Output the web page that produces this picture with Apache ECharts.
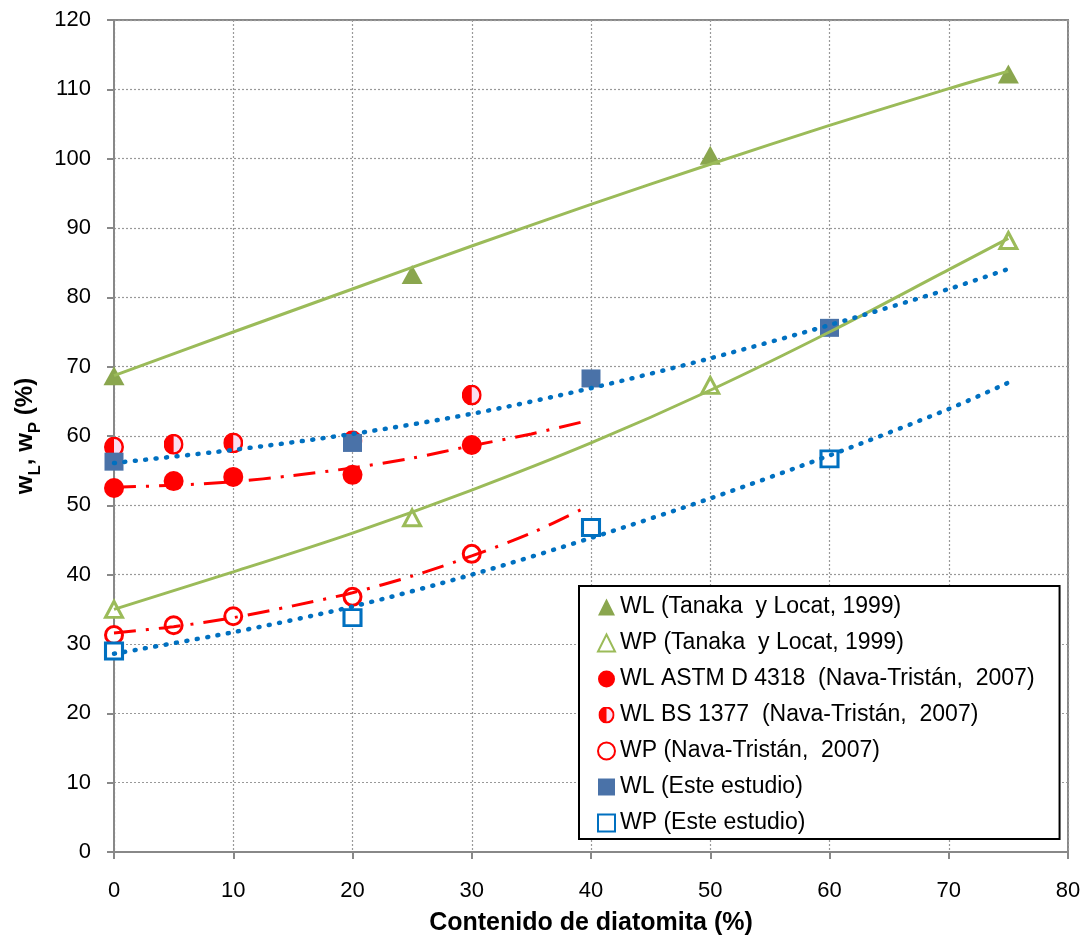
<!DOCTYPE html>
<html><head><meta charset="utf-8">
<script src="https://cdn.jsdelivr.net/npm/echarts/dist/echarts.min.js"></script>
<style>html,body{margin:0;padding:0;background:#fff}#c{width:1084px;height:949px}</style>
</head><body><div id="c"></div>
<script>
// ---- data ----
const xTicks = [0, 10, 20, 30, 40, 50, 60, 70, 80];
const yTicks = [0, 10, 20, 30, 40, 50, 60, 70, 80, 90, 100, 110, 120];

const tanakaX = [0, 25, 50, 75];
const tanakaWL = [68.7, 83.3, 100.5, 112.2];
const tanakaWP = [35.0, 48.2, 67.3, 88.2];

const navaX = [0, 5, 10, 20, 30];
const navaWL_ASTM = [52.5, 53.5, 54.1, 54.4, 58.7];
const navaWL_BS = [58.4, 58.8, 59.0, 59.3, 65.9];
const navaWP = [31.3, 32.7, 34.0, 36.8, 43.0];

const esteX = [0, 20, 40, 60];
const esteWL = [56.3, 59.0, 68.3, 75.6];
const esteWP = [29.0, 33.8, 46.8, 56.7];

// trend lines
const trendX = [0, 10, 20, 30, 40, 50, 60, 70, 75];
const trendTanakaWL = [68.7, 75.0, 81.2, 87.4, 93.4, 99.2, 104.8, 110.1, 112.6];
const trendTanakaWP = [35.0, 40.4, 46.0, 52.2, 59.0, 66.6, 75.0, 84.0, 88.5];
const trendEsteWL = [56.1, 58.0, 60.3, 63.2, 66.9, 71.2, 76.0, 81.2, 84.1];
const trendEsteWP = [28.6, 31.7, 35.4, 40.0, 45.3, 51.0, 57.2, 63.9, 67.7];
const trendNavaX = [0, 5, 10, 15, 20, 25, 30, 35, 39.2];
const trendNavaWL = [52.6, 52.9, 53.4, 54.3, 55.4, 56.8, 58.6, 60.3, 62.0];
const trendNavaWP = [31.6, 32.5, 33.8, 35.5, 37.4, 39.8, 42.7, 46.0, 49.4];

const names = [
  'WL (Tanaka  y Locat, 1999)',
  'WP (Tanaka  y Locat, 1999)',
  'WL ASTM D 4318  (Nava-Tristán,  2007)',
  'WL BS 1377  (Nava-Tristán,  2007)',
  'WP (Nava-Tristán,  2007)',
  'WL (Este estudio)',
  'WP (Este estudio)'
];

// ---- chart ----
const FONT = "'Liberation Sans', Arial, sans-serif";
const pairs = (xs, ys) => xs.map((x, i) => [x, ys[i]]);

const halfSvg = "<svg xmlns='http://www.w3.org/2000/svg' width='40' height='42' viewBox='0 0 40 42'>" +
  "<ellipse cx='20' cy='21' rx='17.5' ry='18.5' fill='#FADDF1' stroke='#FF0000' stroke-width='5'/>" +
  "<path d='M20 2 A18 19 0 0 0 20 40 Z' fill='#FF0000'/></svg>";
const halfSymbol = 'image://data:image/svg+xml;charset=utf-8,' + encodeURIComponent(halfSvg);

const GREEN = '#9BBB59', GREEN_D = '#8AA64E', RED = '#FF0000', BLUE = '#0070C0', BLUE_F = '#4A72A8';
const dashDot = [22, 10, 3, 10];
const dotted = [1, 9.5];

function scatter(name, xs, ys, symbol, size, itemStyle) {
  return { name, type: 'scatter', data: pairs(xs, ys), symbol, symbolSize: size,
    itemStyle: Object.assign({ opacity: 1 }, itemStyle), z: 3, emphasis: { disabled: true } };
}
function trend(name, xs, ys, color, type, width, cap) {
  return { name, type: 'line', data: pairs(xs, ys), showSymbol: false, symbol: 'none',
    smooth: 0.3, z: 4, silent: true,
    lineStyle: { color, type, width, cap: cap || 'butt', opacity: 1 } };
}

const chart = echarts.init(document.getElementById('c'));
chart.setOption({
  animation: false,
  backgroundColor: '#fff',
  textStyle: { fontFamily: FONT },
  grid: { left: 114, right: 16, top: 20, bottom: 97, show: true, borderColor: '#888', borderWidth: 2,
    containLabel: false, outerBoundsMode: 'none' },
  xAxis: {
    type: 'value', min: xTicks[0], max: xTicks[xTicks.length - 1], interval: 10,
    name: 'Contenido de diatomita (%)', nameLocation: 'middle', nameGap: 59,
    nameTextStyle: { fontSize: 25, fontWeight: 'bold', color: '#000', fontFamily: FONT },
    axisLine: { onZero: false, lineStyle: { color: '#888', width: 2 } },
    axisTick: { show: true, length: 7, lineStyle: { color: '#888', width: 2 } },
    axisLabel: { fontSize: 22, color: '#000', margin: 28, fontFamily: FONT },
    splitLine: { show: true, lineStyle: { color: '#999', type: [2, 2], width: 1.2 } }
  },
  yAxis: {
    type: 'value', min: yTicks[0], max: yTicks[yTicks.length - 1], interval: 10,
    name: '{b|w}{s|L}{b|, w}{s|P}{b| (%)}', nameLocation: 'middle', nameGap: 76, nameRotate: 90,
    nameTextStyle: {
      rich: {
        b: { fontSize: 24, fontWeight: 'bold', color: '#000', fontFamily: FONT, verticalAlign: 'bottom', lineHeight: 28 },
        s: { fontSize: 17, fontWeight: 'bold', color: '#000', fontFamily: FONT, verticalAlign: 'bottom', lineHeight: 22, padding: [0, 0, -6, 0] }
      }
    },
    axisLine: { onZero: false, lineStyle: { color: '#888', width: 2 } },
    axisTick: { show: true, length: 7, lineStyle: { color: '#888', width: 2 } },
    axisLabel: { fontSize: 22, color: '#000', margin: 23, fontFamily: FONT },
    splitLine: { show: true, lineStyle: { color: '#999', type: [2, 2], width: 1.2 } }
  },
  legend: {
    data: names, orient: 'vertical', left: 579, top: 586,
    padding: [9, 25, 4, 18], itemGap: 12, itemWidth: 17, itemHeight: 17,
    backgroundColor: '#fff', borderColor: '#000', borderWidth: 2, borderRadius: 0,
    selectedMode: false,
    textStyle: { fontSize: 23, color: '#000', fontFamily: FONT, lineHeight: 24 }
  },
  series: [
    scatter(names[0], tanakaX, tanakaWL, 'triangle', [21, 19], { color: GREEN_D }),
    scatter(names[1], tanakaX, tanakaWP, 'triangle', [17, 16], { color: '#fff', borderColor: GREEN, borderWidth: 3 }),
    scatter(names[2], navaX, navaWL_ASTM, 'circle', 20, { color: RED }),
    scatter(names[3], navaX, navaWL_BS, halfSymbol, [20, 21], { color: RED }),
    scatter(names[4], navaX, navaWP, 'circle', 17, { color: '#fff', borderColor: RED, borderWidth: 3 }),
    scatter(names[5], esteX, esteWL, 'rect', [19, 18], { color: BLUE_F }),
    scatter(names[6], esteX, esteWP, 'rect', [17, 16], { color: '#fff', borderColor: BLUE, borderWidth: 3 }),
    trend('t1', trendX, trendTanakaWL, GREEN, 'solid', 3),
    trend('t2', trendX, trendTanakaWP, GREEN, 'solid', 3),
    trend('t3', trendNavaX, trendNavaWL, RED, dashDot, 3),
    trend('t4', trendNavaX, trendNavaWP, RED, dashDot, 3),
    trend('t5', trendX, trendEsteWL, BLUE, dotted, 4.5, 'round'),
    trend('t6', trendX, trendEsteWP, BLUE, dotted, 4.5, 'round')
  ]
});
</script></body></html>
